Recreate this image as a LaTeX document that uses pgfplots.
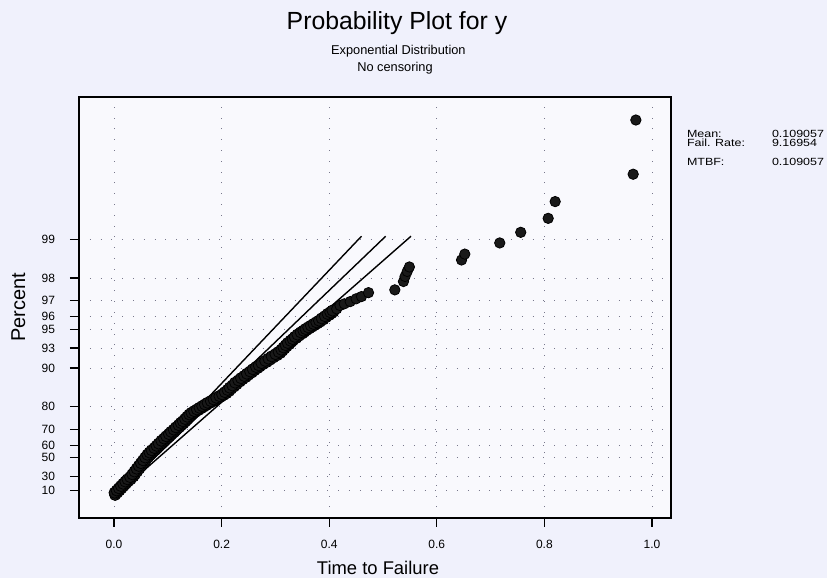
\documentclass[border=0pt]{standalone}
\usepackage{pgfplots}
\pgfplotsset{compat=1.18}
\usepackage{fontspec}
\setmainfont{Liberation Sans}
\definecolor{bgc}{RGB}{240,241,252}
\definecolor{gridc}{RGB}{120,120,140}
\newcommand{\stat}[1]{\scalebox{1.2}[1]{\fontsize{5.2}{6}\selectfont #1}}
\begin{document}
\begin{tikzpicture}[x=1pt,y=1pt]
\path[use as bounding box, fill=bgc] (0,0) rectangle (413.5,289);
\begin{axis}[
  at={(39.5pt,30pt)}, anchor=south west,
  scale only axis, width=296pt, height=210.5pt,
  xmin=-0.0651, xmax=1.0353, ymin=-0.383, ymax=7.152,
  axis background/.style={fill=white, fill opacity=0.6},
  axis line style={line width=0.9pt},
  tick align=outside, xtick pos=bottom, ytick pos=left,
  major tick length=4.5pt,
  tick style={line width=0.6pt, black},
  xtick={0,0.2,0.4,0.6,0.8,1.0},
  xticklabels={0.0,0.2,0.4,0.6,0.8,1.0},
  ytick={0.10536,0.35667,0.69315,0.91629,1.20397,1.60944,2.30259,2.65926,2.99573,3.21888,3.50656,3.91202,4.60517},
  yticklabels={10,30,50,60,70,80,90,93,95,96,97,98,99},
  /pgf/number format/assume math mode=true,
  ticklabel style={font=\fontsize{6}{7}\selectfont},
  xticklabel style={yshift=-3pt},
  yticklabel style={xshift=-4pt},
  grid=major,
  major grid style={gridc, line width=0.4pt, dash pattern=on 0.4pt off 5pt},
  clip=false,
]
% fitted line and confidence bounds
\addplot[black, line width=0.7pt] coordinates {(0.0030,0.030) (0.460,4.66)};
\addplot[black, line width=0.7pt] coordinates {(0.0033,0.030) (0.505,4.66)};
\addplot[black, line width=0.7pt] coordinates {(0.0036,0.030) (0.552,4.66)};
% dense band of observations
\addplot[only marks, mark=*, mark size=2.8pt, black, mark options={fill=black!90}] coordinates {
(0.002,0.03) (0.006,0.07) (0.010,0.11) (0.014,0.15) (0.018,0.19) (0.022,0.23) (0.026,0.27) (0.031,0.31) (0.036,0.36)
(0.039,0.40) (0.043,0.45) (0.047,0.50) (0.051,0.55) (0.055,0.60) (0.059,0.65) (0.063,0.70) (0.067,0.75)
(0.071,0.79) (0.076,0.83) (0.080,0.87) (0.084,0.91) (0.088,0.95) (0.094,1.00) (0.098,1.04)
(0.103,1.08) (0.107,1.12) (0.112,1.16) (0.116,1.20) (0.121,1.24) (0.125,1.28) (0.129,1.31)
(0.133,1.35) (0.137,1.39) (0.141,1.43) (0.144,1.46) (0.147,1.49)
(0.152,1.52) (0.157,1.55) (0.162,1.58) (0.167,1.61) (0.172,1.64)
(0.177,1.67) (0.183,1.70) (0.188,1.73) (0.193,1.76) (0.199,1.79) (0.204,1.82) (0.209,1.85)
(0.214,1.89) (0.218,1.93) (0.223,1.97) (0.228,2.01) (0.234,2.06)
(0.239,2.10) (0.245,2.14) (0.250,2.18) (0.256,2.22) (0.261,2.26) (0.267,2.30) (0.271,2.33)
(0.277,2.37) (0.284,2.41) (0.290,2.45) (0.296,2.49) (0.303,2.53) (0.309,2.57)
(0.313,2.61) (0.317,2.65) (0.321,2.69) (0.326,2.73) (0.330,2.77) (0.333,2.80)
(0.339,2.84) (0.344,2.88) (0.350,2.92) (0.354,2.95) (0.358,2.98)
(0.363,3.01) (0.368,3.04) (0.373,3.07) (0.378,3.10) (0.383,3.13)
(0.389,3.17) (0.394,3.21) (0.400,3.25) (0.404,3.28) (0.408,3.31)
(0.001,0.07) (0.005,0.11) (0.009,0.15) (0.013,0.19) (0.017,0.23) (0.021,0.27) (0.025,0.31) (0.030,0.35)
(0.034,0.40) (0.038,0.45) (0.042,0.50) (0.046,0.55) (0.050,0.60) (0.054,0.65) (0.058,0.70) (0.062,0.75)
(0.066,0.79) (0.070,0.83) (0.075,0.87) (0.079,0.91) (0.083,0.95) (0.088,1.00) (0.093,1.04) (0.097,1.08)
(0.102,1.12) (0.106,1.16) (0.111,1.20) (0.115,1.24) (0.120,1.28) (0.124,1.32) (0.128,1.35) (0.132,1.39)
(0.136,1.43) (0.140,1.47) (0.144,1.50) (0.149,1.53) (0.154,1.56) (0.159,1.59) (0.164,1.62) (0.169,1.65)
(0.174,1.68) (0.180,1.71) (0.185,1.74) (0.190,1.77) (0.196,1.80) (0.201,1.83) (0.206,1.87) (0.211,1.91)
(0.215,1.95) (0.220,1.99) (0.225,2.04) (0.231,2.08) (0.236,2.12) (0.242,2.16) (0.247,2.20) (0.253,2.24)
(0.258,2.28) (0.264,2.32) (0.269,2.35) (0.274,2.39) (0.281,2.43) (0.287,2.47) (0.293,2.51) (0.300,2.55)
(0.306,2.59) (0.311,2.63) (0.315,2.67) (0.319,2.71) (0.323,2.75) (0.328,2.79) (0.332,2.82) (0.336,2.86)
(0.341,2.90) (0.347,2.94) (0.352,2.97) (0.356,3.00) (0.361,3.03) (0.366,3.06) (0.371,3.09) (0.376,3.12)
(0.381,3.15) (0.386,3.19) (0.392,3.23) (0.397,3.27) (0.402,3.30) (0.406,3.33)
};
% sparse upper tail
\addplot[only marks, mark=*, mark size=2.6pt, black, mark options={fill=black!90}] coordinates {
(0.414,3.36) (0.420,3.42) (0.428,3.45) (0.439,3.49) (0.450,3.54) (0.460,3.58) (0.473,3.65)
(0.522,3.70) (0.538,3.85) (0.541,3.94) (0.545,4.03) (0.549,4.11)
(0.646,4.235) (0.652,4.34) (0.717,4.54) (0.756,4.73) (0.807,4.98) (0.820,5.28)
(0.965,5.77) (0.970,6.74)
};
\end{axis}
% titles
\node[font=\fontsize{12.4}{14}\selectfont] at (198.5,277.6) {Probability Plot for y};
\node[font=\fontsize{6.4}{7.5}\selectfont] at (199.2,263.6) {Exponential Distribution};
\node[font=\fontsize{6.4}{7.5}\selectfont] at (197.5,254.9) {No censoring};
% axis titles
\node[font=\fontsize{9.2}{11}\selectfont] at (189,5) {Time to Failure};
\node[font=\fontsize{10}{12}\selectfont, rotate=90] at (9.2,135.3) {Percent};
% statistics
\node[anchor=base west, inner sep=0pt] at (343.3,220.2) {\stat{Mean:}};
\node[anchor=base west, inner sep=0pt] at (343.3,215.5) {\stat{Fail. Rate:}};
\node[anchor=base west, inner sep=0pt] at (343.3,206.4) {\stat{MTBF:}};
\node[anchor=base west, inner sep=0pt] at (385.8,220.2) {\stat{0.109057}};
\node[anchor=base west, inner sep=0pt] at (385.8,215.5) {\stat{9.16954}};
\node[anchor=base west, inner sep=0pt] at (385.8,206.4) {\stat{0.109057}};
\end{tikzpicture}
\end{document}
